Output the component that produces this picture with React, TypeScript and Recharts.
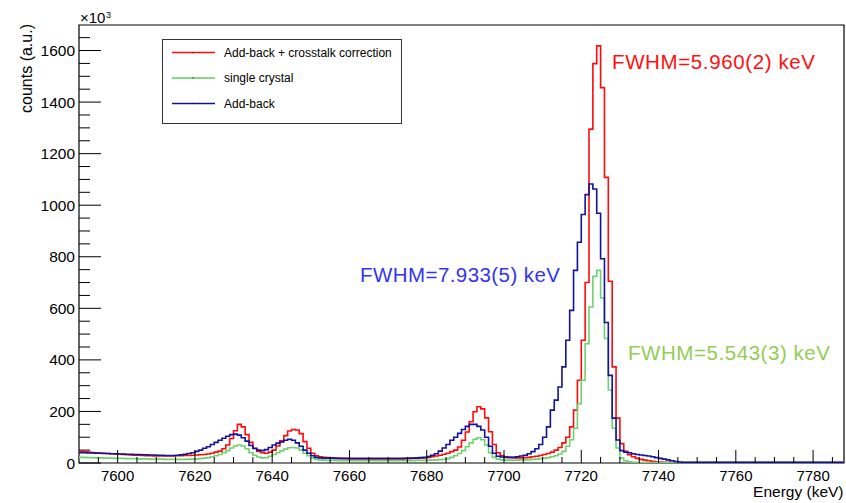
import React from "react";
import { LineChart, Line, XAxis, YAxis, ReferenceArea, Legend } from "recharts";

// 1 keV bins, lower edges 7590 ... 7787
const BIN_START = 7590;
const BIN_END = 7788;
const Y_MAX = 1699;

// counts per bin (x10^3)
const addbackCrosstalk = [
  44, 43, 42, 41, 40, 39, 38, 37, 36, 35,
  34, 33, 32, 31, 30, 30, 29, 28, 28, 27,
  27, 27, 27, 27, 27, 28, 28, 29, 29, 30,
  31, 32, 33, 35, 38, 42, 46, 55, 70, 95,
  125, 150, 140, 110, 80, 57, 45, 40, 38, 42,
  50, 66, 86, 106, 124, 130, 128, 114, 83, 57,
  38, 28, 24, 22, 21, 20, 19, 18, 17, 17,
  16, 16, 16, 16, 16, 16, 16, 16, 16, 16,
  16, 16, 16, 16, 17, 17, 18, 18, 19, 20,
  22, 24, 27, 30, 34, 38, 44, 50, 62, 88,
  120, 160, 199, 218, 210, 175, 121, 72, 40, 28,
  24, 22, 21, 20, 20, 21, 22, 24, 26, 29,
  33, 37, 42, 50, 60, 78, 100, 140, 205, 321,
  476, 700, 1295, 1549, 1618, 1456, 1108, 705, 373, 174,
  75, 45, 32, 24, 18, 14, 11, 9, 7, 5,
  4, 3, 3, 2, 2, 2, 2, 2, 2, 2,
  2, 2, 2, 2, 2, 2, 2, 2, 2, 2,
  2, 2, 2, 2, 2, 2, 2, 2, 2, 2,
  2, 2, 2, 2, 2, 2, 2, 2, 2, 2,
  2, 2, 2, 2, 2, 2, 2, 2,
];

const singleCrystal = [
  22, 22, 21, 21, 20, 20, 19, 19, 19, 18,
  18, 18, 17, 17, 17, 16, 16, 16, 15, 15,
  15, 15, 14, 14, 14, 14, 14, 14, 15, 15,
  16, 17, 19, 21, 24, 28, 33, 40, 48, 58,
  66, 70, 66, 55, 40, 30, 23, 20, 21, 26,
  33, 40, 47, 54, 59, 60, 58, 50, 38, 28,
  20, 14, 12, 11, 10, 10, 10, 9, 9, 9,
  9, 9, 9, 9, 9, 9, 9, 9, 9, 9,
  9, 9, 9, 9, 9, 9, 9, 10, 10, 10,
  11, 11, 12, 13, 14, 17, 22, 28, 37, 48,
  63, 78, 92, 98, 90, 70, 40, 22, 15, 12,
  11, 11, 11, 11, 12, 12, 13, 14, 15, 17,
  19, 21, 24, 28, 35, 45, 65, 90, 135, 230,
  321, 463, 605, 724, 747, 640, 483, 283, 135, 58,
  19, 9, 5, 3, 2, 2, 2, 2, 2, 2,
  2, 2, 2, 2, 2, 2, 2, 2, 2, 2,
  2, 2, 2, 2, 2, 2, 2, 2, 2, 2,
  2, 2, 2, 2, 2, 2, 2, 2, 2, 2,
  2, 2, 2, 2, 2, 2, 2, 2, 2, 2,
  2, 2, 2, 2, 2, 2, 2, 2,
];

const addback = [
  40, 40, 39, 39, 38, 38, 37, 37, 36, 36,
  35, 35, 34, 34, 33, 33, 32, 32, 31, 31,
  30, 30, 29, 29, 29, 30, 32, 34, 37, 40,
  45, 50, 57, 63, 72, 80, 88, 96, 104, 110,
  112, 108, 98, 85, 68, 56, 50, 48, 52, 60,
  70, 77, 82, 88, 92, 88, 78, 65, 50, 38,
  28, 22, 20, 19, 19, 19, 18, 18, 18, 18,
  18, 18, 18, 18, 18, 18, 18, 18, 18, 18,
  18, 18, 18, 18, 18, 19, 19, 20, 21, 22,
  25, 30, 36, 46, 58, 72, 88, 100, 115, 130,
  142, 150, 150, 142, 128, 100, 65, 38, 26, 23,
  22, 22, 22, 24, 27, 30, 36, 44, 55, 72,
  100, 140, 205, 244, 295, 373, 476, 592, 747, 856,
  964, 1041, 1082, 1063, 969, 792, 545, 340, 174, 89,
  48, 42, 40, 36, 33, 31, 29, 27, 24, 21,
  18, 15, 12, 9, 6, 4, 3, 3, 3, 3,
  3, 3, 3, 3, 3, 3, 3, 3, 3, 3,
  3, 3, 3, 3, 3, 3, 3, 3, 3, 3,
  3, 3, 3, 3, 3, 3, 3, 3, 3, 3,
  3, 3, 3, 3, 3, 3, 3, 3,
];

const xLabelTicks = [7600, 7620, 7640, 7660, 7680, 7700, 7720, 7740, 7760, 7780];
const yLabelTicks = [0, 200, 400, 600, 800, 1000, 1200, 1400, 1600];

// minor ticks every 5 keV / every 50 counts
const xTicks = Array.from({ length: 39 }, (_, i) => 7595 + i * 5);
const yTicks = Array.from({ length: 34 }, (_, i) => i * 50);

const RED = "#ff0a0a";
const GREEN = "#6fd26f";
const BLUE = "#12129c";

const FONT = "'Liberation Sans', Arial, Helvetica, sans-serif";

// histogram rows; the last row closes the final bin at its upper edge
const rows = addback.map((_, i) => ({
  e: BIN_START + i,
  red: addbackCrosstalk[i],
  green: singleCrystal[i],
  blue: addback[i],
}));
rows.push({
  e: BIN_END,
  red: addbackCrosstalk[addbackCrosstalk.length - 1],
  green: singleCrystal[singleCrystal.length - 1],
  blue: addback[addback.length - 1],
});

const legendItems = [
  { name: "Add-back + crosstalk correction", color: RED, w: 1.5 },
  { name: "single crystal", color: "#86dc86", w: 2.2 },
  { name: "Add-back", color: BLUE, w: 1.5 },
];

// ticks are drawn inside the frame, like ROOT axes
const XTick = (props: any) => {
  const { x, y, payload } = props;
  const major = xLabelTicks.includes(payload.value);
  return (
    <g>
      <line x1={x} x2={x} y1={y} y2={y - (major ? 13 : 6)} stroke="#000" strokeWidth={1} />
      {major && (
        <text x={x} y={y + 17.5} textAnchor="middle" fontSize={15} fontFamily={FONT} fill="#000">
          {payload.value}
        </text>
      )}
    </g>
  );
};

const YTick = (props: any) => {
  const { x, y, payload } = props;
  const major = yLabelTicks.includes(payload.value);
  return (
    <g>
      <line x1={x} x2={x + (major ? 22 : 11)} y1={y} y2={y} stroke="#000" strokeWidth={1} />
      {major && (
        <text x={x - 4} y={y + 5.5} textAnchor="end" fontSize={15.5} fontFamily={FONT} fill="#000">
          {payload.value}
        </text>
      )}
    </g>
  );
};

const LegendBox = () => (
  <svg width={240} height={85} style={{ display: "block" }}>
    <rect x={0.5} y={0.5} width={239} height={84} fill="#fff" stroke="#333" strokeWidth={1} />
    {legendItems.map((it, i) => {
      const cy = 13.5 + i * 25.5;
      return (
        <g key={it.name}>
          <line x1={10} x2={53} y1={cy} y2={cy} stroke={it.color} strokeWidth={it.w} />
          <rect x={30.5} y={cy - 0.5} width={1} height={1} fill="#000" />
          <text x={62} y={cy + 4.2} fontSize={12} fontFamily={FONT} fill="#000">
            {it.name}
          </text>
        </g>
      );
    })}
  </svg>
);

export default function App() {
  return (
    <div style={{ position: "absolute", left: 0, top: 0, width: 846, height: 503, background: "#fff" }}>
      <LineChart width={846} height={503} data={rows} margin={{ top: 25, right: 2, bottom: 0, left: 0 }}>
        <XAxis
          type="number"
          dataKey="e"
          domain={[BIN_START, BIN_END]}
          allowDataOverflow
          ticks={xTicks}
          interval={0}
          height={40}
          tickSize={0}
          tickMargin={0}
          axisLine={false}
          tickLine={false}
          tick={<XTick />}
        />
        <YAxis
          type="number"
          domain={[0, Y_MAX]}
          allowDataOverflow
          ticks={yTicks}
          interval={0}
          width={79}
          tickSize={0}
          tickMargin={0}
          axisLine={false}
          tickLine={false}
          tick={<YTick />}
        />
        <ReferenceArea
          x1={BIN_START}
          x2={BIN_END}
          y1={0}
          y2={Y_MAX}
          fill="none"
          stroke="#000"
          strokeWidth={1.2}
          ifOverflow="visible"
        />
        <Line dataKey="red" type="stepAfter" stroke={RED} strokeWidth={1.6} dot={false} isAnimationActive={false} />
        <Line dataKey="green" type="stepAfter" stroke={GREEN} strokeWidth={1.6} dot={false} isAnimationActive={false} />
        <Line dataKey="blue" type="stepAfter" stroke={BLUE} strokeWidth={1.6} dot={false} isAnimationActive={false} />
        <Legend
          layout="vertical"
          align="center"
          verticalAlign="middle"
          content={() => <LegendBox />}
          wrapperStyle={{ left: 162, top: 39, width: 240, height: 85 }}
        />
      </LineChart>
      <svg
        width={846}
        height={503}
        style={{ position: "absolute", left: 0, top: 0, pointerEvents: "none" }}
        fontFamily={FONT}
      >
        <text x={80} y={23} fontSize={15}>×10</text>
        <text x={106} y={17.5} fontSize={9}>3</text>
        <text x={32} y={24} fontSize={16} textAnchor="end" transform="rotate(-90 32 24)">
          counts (a.u.)
        </text>
        <text x={843.5} y={497} fontSize={15.5} textAnchor="end">Energy (keV)</text>
        <text x={612} y={69} fontSize={20.5} fill="#ff1010" textLength={203}>FWHM=5.960(2) keV</text>
        <text x={360} y={282} fontSize={20.5} fill="#3434f0" textLength={200}>FWHM=7.933(5) keV</text>
        <text x={628} y={360} fontSize={20.5} fill="#92cd55" textLength={202}>FWHM=5.543(3) keV</text>
      </svg>
    </div>
  );
}
